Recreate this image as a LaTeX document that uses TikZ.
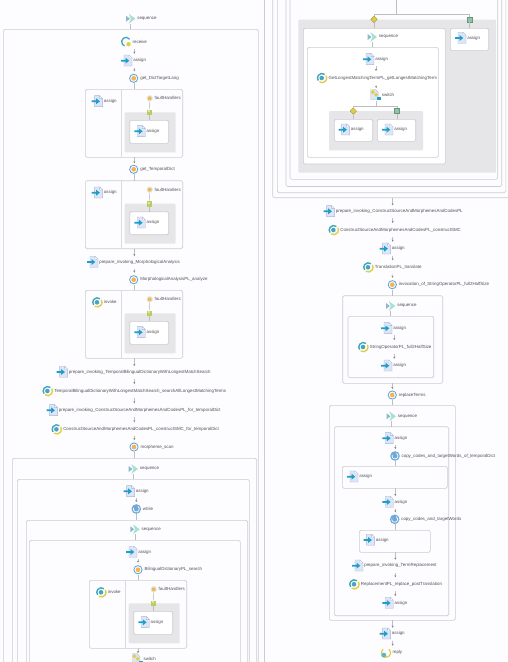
\documentclass[tikz,border=0pt]{standalone}
\usepackage{fontspec}
\setmainfont{Liberation Sans}
\usetikzlibrary{arrows.meta,calc,shapes.geometric}
\definecolor{bgc}{HTML}{FDFCFE}
\definecolor{framec}{HTML}{CBCBD2}
\definecolor{linec}{HTML}{BDBDC2}
\definecolor{txtc}{HTML}{505058}
\definecolor{panelc}{HTML}{E6E5E8}
\definecolor{arrowc}{HTML}{1E9FC9}
\definecolor{pagec}{HTML}{DEE6F6}
\definecolor{pageln}{HTML}{A6B6DA}
\definecolor{tealc}{HTML}{3FA7B8}
\definecolor{yelc}{HTML}{E0CE4A}
\definecolor{ringc}{HTML}{5A9FD6}
\definecolor{orangec}{HTML}{F2B552}
\definecolor{whilec}{HTML}{6FA9D8}
\definecolor{mintc}{HTML}{A6E0CE}
\definecolor{seqbc}{HTML}{8DB8D0}
\definecolor{greenc}{HTML}{B6CF62}
\definecolor{sqc}{HTML}{8FC4A8}
\tikzset{
  framebox/.style={draw=framec,line width=.6pt,rounded corners=1.5pt,inner sep=0,outer sep=0,anchor=north west},
  whitebox/.style={framebox,fill=white},
  panelbox/.style={fill=panelc,rounded corners=1pt,inner sep=0,outer sep=0,anchor=north west},
  iconbox/.style={inner sep=0,outer sep=0,minimum size=12pt},
  lbl/.style={inner sep=0,outer sep=0,anchor=west,text=txtc,font=\fontsize{4.43}{5}\selectfont},
  conn/.style={draw=linec,line width=.5pt,-{Stealth[length=2pt,width=2pt,color=gray]}},
  cline/.style={draw=linec,line width=.55pt},
  divline/.style={draw=framec!70!white,line width=.45pt},
  assignicon/.pic={
    \draw[fill=pagec,draw=pageln,line width=.35pt] (-2.7,-5.7)--(2.3,-5.7)--(5.3,-2.7)--(5.3,5.3)--(-2.7,5.3)--cycle;
    \draw[fill=white,draw=pageln,line width=.3pt] (2.3,-5.7)--(2.3,-2.7)--(5.3,-2.7)--cycle;
    \fill[arrowc] (-5.7,-.9)--(-1.2,-.9)--(-1.2,-3)--(2.6,0)--(-1.2,3)--(-1.2,.9)--(-5.7,.9)--cycle;},
  seqicon/.pic={
    \fill[seqbc] (-4.7,-3)--(-.8,0)--(-4.7,3)--cycle;
    \fill[mintc] (-2,-4.9)--(4.7,0)--(-2,4.9)--(.2,0)--cycle;},
  callicon/.pic={
    \draw[ringc,fill=white,line width=.8pt] (0,0) circle (4.1);
    \fill[orangec] (0,0) circle (2.4);},
  whileicon/.pic={
    \fill[whilec] (0,0) circle (4.8);
    \draw[white,line width=.7pt] (1.5,-2.6) arc (-60:200:3);},
  invokeicon/.pic={
    \draw[tealc,line width=1.4pt] (2.7,-3.6) arc (-53:-215:4.5);
    \draw[yelc,line width=1.4pt] (-2.6,3.9) arc (124:-30:4.7);
    \fill[tealc!70!ringc] (-.3,0) circle (2.3);},
  receiveicon/.pic={
    \draw[tealc,line width=1.3pt] (3.6,-2.5) arc (-35:-250:4.4);
    \fill[yelc] (2.5,2.5) circle (2.2);},
  replyicon/.pic={
    \draw[yelc,line width=1.2pt] (-3,-3.5) arc (230:-50:4.6);
    \fill[tealc!70!mintc] (-2.2,2.4) circle (2.5);},
  switchicon/.pic={
    \draw[fill=pagec,draw=pageln,line width=.35pt] (-4.5,-5.5)--(0,-5.5)--(3,-2.5)--(3,4.5)--(-4.5,4.5)--cycle;
    \fill[yelc] (-2.5,-5)--(-.3,-2.8)--(-2.5,-.6)--(-4.7,-2.8)--cycle;
    \fill[yelc] (.8,-2.2)--(2.8,-.2)--(.8,1.8)--(-1.2,-.2)--cycle;
    \fill[arrowc] (1.5,2.2)--(5.5,2.2)--(5.5,4.6)--(1.5,4.6)--cycle;},
}
% \act{name}{icon}{x}{y}{connector x}{label}
\newcommand{\act}[6]{%
  \node[iconbox] (#1) at (#3,#4) {};
  \coordinate (#1-c) at (#5,#4);
  \path (#3,#4) pic {#2};
  \node[lbl] (#1-l) at ($(#3,#4)+(6.6,0)$) {#6};}
% \frm{name}{style}{x1}{y1}{x2}{y2}
\newcommand{\frm}[6]{%
  \pgfmathsetmacro{\myw}{#5-#3}\pgfmathsetmacro{\myh}{#6-#4}%
  \node[#2,minimum width=\myw pt,minimum height=\myh pt] (#1) at (#3,#4) {};}
\newcommand{\cn}[2]{\draw[conn] ([yshift=-7pt]#1-c) -- ([yshift=7pt]#2-c);}
\newcommand{\cbox}[2]{\draw[cline] ([yshift=-5pt]#1-c) -- (#1-c |- #2.north);}
\newcommand{\cfrom}[2]{\draw[conn] (#2-c |- #1.south) -- ([yshift=6pt]#2-c);}
% fault-handling block: \flt{name}{x}{y}{icon}{label}
\newcommand{\flt}[5]{%
  \begin{scope}[shift={(#2,#3)}]
    \frm{#1}{framebox}{0}{0}{97.4}{68}
    \coordinate (#1-d) at (36,0);
    \draw[divline] (#1-d |- #1.north) -- (#1-d |- #1.south);
    \act{#1-a}{#4}{12}{12}{12}{#5}
    \frm{#1-p}{panelbox}{39.4}{23}{90.4}{63}
    \frm{#1-b}{whitebox}{44.4}{31}{83.4}{54}
    \node[circle,fill=panelc,inner sep=0,minimum size=6.4pt] (#1-f) at (64.4,9) {};
    \fill[orangec!70!yelc] (#1-f) circle (2);
    \node[lbl] (#1-fl) at (69.4,9) {faultHandlers};
    \node[fill=greenc,inner sep=0,minimum size=5.6pt] (#1-g) at (64,23) {};
    \fill[yelc!60!white] ([xshift=-1pt]#1-g) rectangle ([xshift=1pt,yshift=2pt]#1-g);
    \draw[cline] (#1-f.south) -- (#1-g.north);
    \draw[cline] (#1-g.south) -- (#1-g |- #1-b.north);
    \act{#1-i}{assignicon}{54.7}{42}{54.7}{assign}
  \end{scope}}
\begin{document}
\begin{tikzpicture}[x=1pt,y=-1pt]
\useasboundingbox (0,0) rectangle (508,662);
\clip (0,0) rectangle (508,662);
\fill[bgc] (0,0) rectangle (508,662);
% ---------- left column frames
\frm{fa}{framebox}{3.6}{29.3}{258.4}{690}
\frm{fb}{framebox}{12.3}{458.3}{256.7}{690}
\frm{fc}{framebox}{17.3}{479.3}{249.3}{690}
\frm{fd}{framebox}{26.3}{520.3}{247.7}{690}
\frm{fe}{framebox}{29.3}{540.3}{240.3}{690}
% ---------- left column activities
\act{s0}{seqicon}{130.7}{18.7}{130.7}{sequence}
\cbox{s0}{fa}
\act{rc}{receiveicon}{126}{41.7}{134.3}{receive}
\act{a1}{assignicon}{126.7}{60.7}{134.3}{assign}
\cn{rc}{a1}
\act{g1}{callicon}{133.7}{78.3}{134.3}{get\_DictTargetLang}
\cn{a1}{g1}
\flt{b1}{85.3}{89.3}{assignicon}{assign}
\cbox{g1}{b1}
\act{g2}{callicon}{133.7}{169.3}{134.3}{get\_TemporalDict}
\cfrom{b1}{g2}
\flt{b2}{85.3}{180.7}{assignicon}{assign}
\cbox{g2}{b2}
\act{p1}{assignicon}{92.7}{262}{134.3}{prepare\_invoking\_MorphologicalAnalysis}
\cfrom{b2}{p1}
\act{g3}{callicon}{133.7}{279.7}{134.3}{MorphologicalAnalysisPL\_analyze}
\cn{p1}{g3}
\flt{b3}{85.3}{290.3}{invokeicon}{invoke}
\cbox{g3}{b3}
\act{p2}{assignicon}{62.3}{372}{134.3}{prepare\_invoking\_TemporalBilingualDictionaryWithLongestMatchSearch}
\cfrom{b3}{p2}
\act{i2}{invokeicon}{47.7}{391}{134.3}{TemporalBilingualDictionaryWithLongestMatchSearch\_searchAllLongestMatchingTerms}
\cn{p2}{i2}
\act{p3}{assignicon}{52.3}{410.3}{134.3}{prepare\_invoking\_ConstructSourceAndMorphemesAndCodesPL\_for\_temporalDict}
\cn{i2}{p3}
\act{i3}{invokeicon}{56.7}{429.3}{134.3}{ConstructSourceAndMorphemesAndCodesPL\_constructSMC\_for\_temporalDict}
\cn{p3}{i3}
\act{g4}{callicon}{134}{447}{134.3}{morpheme\_scan}
\cn{i3}{g4}
\cbox{g4}{fb}
\act{s1}{seqicon}{133.3}{469}{133.3}{sequence}
\cbox{s1}{fc}
\act{a2}{assignicon}{129.3}{491.3}{136.3}{assign}
\act{w1}{whileicon}{136.3}{509}{136.3}{while}
\cn{a2}{w1}
\cbox{w1}{fd}
\act{s2}{seqicon}{135}{529.3}{135}{sequence}
\cbox{s2}{fe}
\act{a3}{assignicon}{131.7}{552}{138}{assign}
\act{g5}{callicon}{138}{569.7}{138}{BilingualDictionaryPL\_search}
\cn{a3}{g5}
\flt{b4}{89.3}{580.3}{invokeicon}{invoke}
\cbox{g5}{b4}
\act{sw1}{switchicon}{137}{659}{138}{switch}
\cfrom{b4}{sw1}
% ---------- right column frames
\frm{ra}{framebox}{264.5}{-30}{540}{690}
\frm{rb}{framebox}{272.7}{-30}{530}{197.7}
\frm{rc2}{framebox}{277.3}{-30}{505.8}{192.7}
\frm{rd}{framebox}{286}{-30}{501.7}{186.5}
\frm{re}{framebox}{290}{-30}{497.7}{179.3}
\frm{pa}{panelbox}{298.3}{19.7}{496}{172.7}
\frm{ba}{whitebox}{303.3}{28.3}{445.3}{164}
\frm{bb}{whitebox}{450.3}{28.3}{488.7}{50.3}
\frm{bc}{framebox}{307.3}{47.3}{438.3}{157.3}
\frm{pb}{panelbox}{329}{111}{423}{150.3}
\frm{bd}{whitebox}{334.3}{119.3}{372.7}{141.3}
\frm{be}{whitebox}{377.3}{119.3}{415.7}{141.3}
% branches of the cut switch
\coordinate (topin) at (396.3,-3);
\coordinate (br1) at (396.3,14.3);
\node[diamond,aspect=1,fill=yelc,draw=yelc!70!black,line width=.3pt,inner sep=0,minimum size=6.6pt] (d1) at (374,19.3) {};
\node[fill=sqc,draw=sqc!75!black,line width=.3pt,inner sep=0,minimum size=5pt] (q1) at (469.7,19.7) {};
\draw[cline] (topin) -- (br1);
\draw[cline] (d1.north) -- (d1 |- br1) -- (q1 |- br1) -- (q1.north);
\draw[cline] (d1.south) -- (d1 |- ba.north);
\draw[cline] (q1.south) -- (q1 |- bb.north);
\act{a4}{assignicon}{460.7}{38}{460.7}{assign}
\act{s3}{seqicon}{372.3}{37}{372.3}{sequence}
\cbox{s3}{bc}
\act{a5}{assignicon}{368.7}{59.3}{376}{assign}
\act{i4}{invokeicon}{322}{78}{376}{GetLongestMatchingTermPL\_getLongestMatchingTerm}
\cn{a5}{i4}
\act{sw2}{switchicon}{375.3}{95}{376.3}{switch}
\cn{i4}{sw2}
\coordinate (br2) at (376.3,106.3);
\node[diamond,aspect=1,fill=yelc,draw=yelc!70!black,line width=.3pt,inner sep=0,minimum size=6.6pt] (d2) at (353.3,111) {};
\node[fill=sqc,draw=sqc!75!black,line width=.3pt,inner sep=0,minimum size=5pt] (q2) at (397,111) {};
\draw[cline] ([yshift=-6pt]sw2-c) -- (br2);
\draw[cline] (d2.north) -- (d2 |- br2) -- (q2 |- br2) -- (q2.north);
\draw[cline] (d2.south) -- (d2 |- bd.north);
\draw[cline] (q2.south) -- (q2 |- be.north);
\act{a6}{assignicon}{344.3}{129.7}{344.3}{assign}
\act{a7}{assignicon}{387.7}{129.7}{387.7}{assign}
% lower right chain
\act{p4}{assignicon}{329.3}{211.3}{392.7}{prepare\_invoking\_ConstructSourceAndMorphemesAndCodesPL}
\cfrom{rb}{p4}
\act{i5}{invokeicon}{333.7}{230}{392.7}{ConstructSourceAndMorphemesAndCodesPL\_constructSMC}
\cn{p4}{i5}
\act{a8}{assignicon}{385.3}{248.7}{392.7}{assign}
\cn{i5}{a8}
\act{i6}{invokeicon}{368.3}{267.3}{392.7}{TranslationPL\_translate}
\cn{a8}{i6}
\act{g6}{callicon}{392.3}{284.7}{392.3}{invocation\_of\_StringOperatorPL\_full2HalfSize}
\cn{i6}{g6}
\frm{bf}{framebox}{342.7}{295.7}{442.7}{383.3}
\cbox{g6}{bf}
\act{s4}{seqicon}{390.7}{306}{390.7}{sequence}
\frm{bg}{framebox}{348}{316.3}{433.7}{377.7}
\cbox{s4}{bg}
\act{a9}{assignicon}{386.7}{328.3}{394.3}{assign}
\act{i7}{invokeicon}{363.3}{347}{394.3}{StringOperatorPL\_full2HalfSize}
\cn{a9}{i7}
\act{a10}{assignicon}{386.7}{365.7}{394.3}{assign}
\cn{i7}{a10}
\act{g7}{callicon}{392.3}{395}{392.3}{replaceTerms}
\cfrom{bf}{g7}
\frm{bh}{framebox}{329.3}{405.3}{455.3}{620.3}
\cbox{g7}{bh}
\act{s5}{seqicon}{391.3}{416.3}{391.3}{sequence}
\frm{bi}{framebox}{334.3}{426.7}{448.7}{615.7}
\cbox{s5}{bi}
\act{a11}{assignicon}{388}{438.3}{395.3}{assign}
\act{w2}{whileicon}{395}{456}{395.3}{copy\_codes\_and\_targetWords\_of\_temporalDict}
\cn{a11}{w2}
\frm{bj}{framebox}{342.3}{466.3}{447.3}{488.3}
\cbox{w2}{bj}
\act{a12}{assignicon}{352.7}{476.7}{352.7}{assign}
\act{a13}{assignicon}{388}{502}{395.3}{assign}
\cfrom{bj}{a13}
\act{w3}{whileicon}{394.7}{519.3}{395.3}{copy\_codes\_and\_targetWords}
\cn{a13}{w3}
\frm{bk}{framebox}{359.3}{530.3}{430.3}{552.3}
\cbox{w3}{bk}
\act{a14}{assignicon}{369.3}{540}{369.3}{assign}
\act{p5}{assignicon}{357.7}{565.7}{395.3}{prepare\_invoking\_TermReplacement}
\cfrom{bk}{p5}
\act{i8}{invokeicon}{354.3}{584.3}{395.3}{ReplacementPL\_replace\_postTranslation}
\cn{p5}{i8}
\act{a15}{assignicon}{388}{603}{395.3}{assign}
\cn{i8}{a15}
\act{a16}{assignicon}{385.3}{633.7}{392.7}{assign}
\cfrom{bh}{a16}
\act{ry}{replyicon}{386}{652.7}{392.7}{reply}
\cn{a16}{ry}
\end{tikzpicture}
\end{document}
